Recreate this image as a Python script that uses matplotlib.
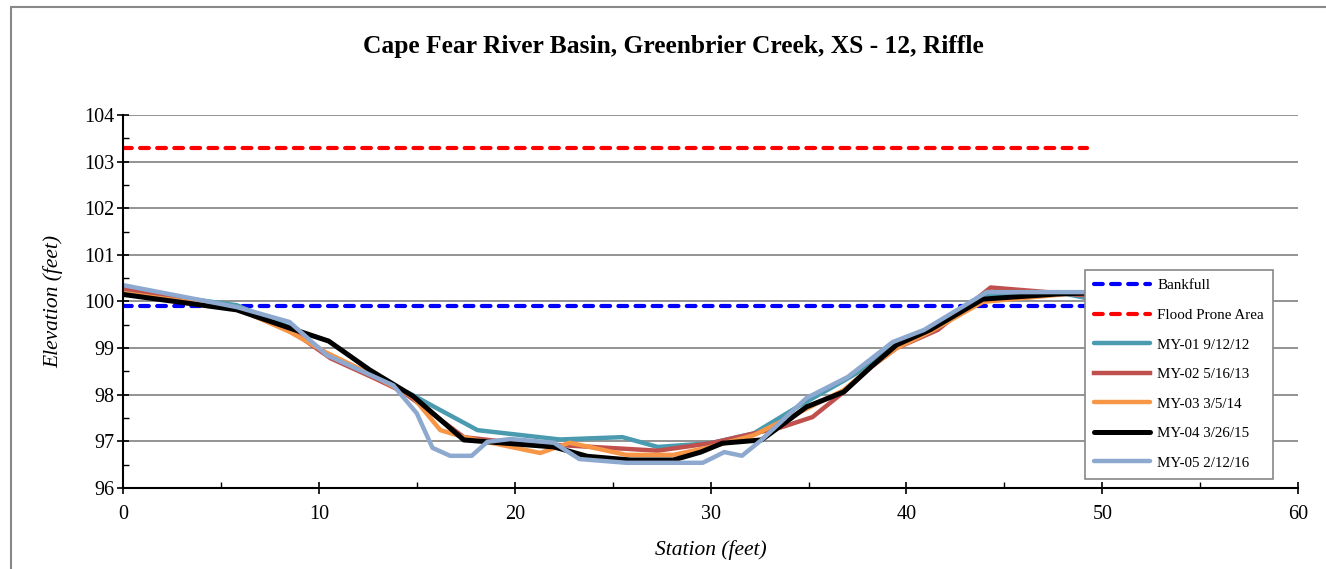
import matplotlib.pyplot as plt
from matplotlib.patches import Rectangle

# Survey data (station, elevation in feet)
bankfull_x = [0, 49.2]
bankfull_y = [99.9, 99.9]
flood_x = [0, 49.2]
flood_y = [103.3, 103.3]

my01_x = [0, 5.8, 8.5, 10.5, 12.6, 14.8, 16.2, 18.1, 22.3, 25.5, 27.3, 30.0, 32.2, 34.6, 36.8, 38.2, 39.5, 41.2, 44.0, 47.7, 49.2]
my01_y = [100.25, 99.92, 99.45, 98.85, 98.45, 97.99, 97.67, 97.24, 97.04, 97.09, 96.88, 96.96, 97.17, 97.78, 98.3, 98.65, 99.1, 99.4, 100.15, 100.2, 100.07]

my02_x = [0, 5.8, 8.5, 10.6, 12.8, 14.3, 17.4, 19.3, 22.3, 27.3, 30.0, 33.6, 35.2, 36.8, 38.2, 39.5, 41.6, 44.3, 49.2]
my02_y = [100.28, 99.85, 99.4, 98.78, 98.36, 98.06, 97.09, 97.0, 96.92, 96.8, 96.96, 97.3, 97.52, 98.06, 98.6, 99.0, 99.39, 100.3, 100.13]

my03_x = [0, 5.8, 8.5, 10.4, 12.6, 14.8, 16.2, 17.4, 21.3, 22.8, 25.7, 28.1, 30.0, 32.2, 34.9, 36.8, 38.2, 39.5, 41.2, 43.9, 49.2]
my03_y = [100.18, 99.85, 99.35, 98.9, 98.45, 97.95, 97.24, 97.09, 96.75, 96.97, 96.71, 96.71, 96.88, 97.13, 97.7, 98.1, 98.6, 99.0, 99.35, 99.99, 100.2]

my04_x = [0, 5.8, 8.5, 10.5, 12.6, 14.8, 17.4, 22.0, 23.7, 25.9, 28.1, 29.5, 30.6, 32.6, 34.9, 36.8, 38.2, 39.5, 41.2, 43.9, 47.7, 49.2]
my04_y = [100.15, 99.82, 99.43, 99.15, 98.53, 97.97, 97.03, 96.88, 96.68, 96.6, 96.6, 96.77, 96.96, 97.03, 97.74, 98.06, 98.6, 99.07, 99.39, 100.05, 100.16, 100.18]

my05_x = [0, 5.8, 8.5, 10.4, 13.8, 15.0, 15.8, 16.7, 17.8, 18.6, 19.8, 22.0, 23.3, 25.7, 29.6, 30.7, 31.6, 32.6, 34.9, 37.0, 39.3, 40.9, 44.1, 49.2]
my05_y = [100.35, 99.88, 99.56, 98.85, 98.2, 97.6, 96.86, 96.69, 96.69, 96.99, 97.05, 96.97, 96.62, 96.54, 96.54, 96.77, 96.69, 97.03, 97.93, 98.38, 99.13, 99.39, 100.2, 100.2]

plt.rcParams['font.family'] = ['Liberation Serif', 'DejaVu Serif']

fig = plt.figure(figsize=(13.26, 5.69), dpi=100)
ax = fig.add_axes([0.0928, 0.1424, 0.8862, 0.6556])

# Frame around the whole chart
fig.patches.append(Rectangle((11 / 1326, -0.1), 1.2, (569 - 7) / 569 + 0.1,
                             transform=fig.transFigure, fill=False,
                             edgecolor='#888888', linewidth=1.5))

dash = (0, (2.1, 2.0))
ax.plot(bankfull_x, bankfull_y, color='#0000FF', linestyle=dash, linewidth=3,
        dash_capstyle='round', label='Bankfull')
ax.plot(flood_x, flood_y, color='#FF0000', linestyle=dash, linewidth=3,
        dash_capstyle='round', label='Flood Prone Area')
ax.plot(my01_x, my01_y, color='#4A9BB0', linewidth=3.2, solid_capstyle='round', label='MY-01 9/12/12')
ax.plot(my02_x, my02_y, color='#C0504D', linewidth=3.2, label='MY-02 5/16/13')
ax.plot(my03_x, my03_y, color='#F79646', linewidth=3.2, solid_capstyle='round', label='MY-03 3/5/14')
ax.plot(my04_x, my04_y, color='#000000', linewidth=3.6, solid_capstyle='round', label='MY-04 3/26/15')
ax.plot(my05_x, my05_y, color='#8EA9CF', linewidth=3.2, solid_capstyle='round', label='MY-05 2/12/16')

ax.set_xlim(0, 60)
ax.set_ylim(96, 104)
ax.set_xticks(range(0, 61, 10))
ax.set_xticks(range(0, 61, 5), minor=True)
ax.set_yticks(range(96, 105, 1))
ax.set_yticks([96 + 0.5 * i for i in range(17)], minor=True)
ax.tick_params(axis='both', which='major', direction='inout', length=8, width=1.2, labelsize=14.5)
ax.tick_params(axis='x', which='major', pad=8)
ax.tick_params(axis='y', which='major', pad=2)
ax.tick_params(axis='both', which='minor', direction='in', length=4, width=1)

ax.grid(axis='y', which='major', color='#808080', linewidth=1.2)
ax.set_axisbelow(True)
for side in ['top', 'right']:
    ax.spines[side].set_visible(False)
for side in ['left', 'bottom']:
    ax.spines[side].set_linewidth(1.5)

ax.set_xlabel('Station (feet)', fontsize=15.5, style='italic', labelpad=12)
ax.set_ylabel('Elevation (feet)', fontsize=15.5, style='italic', labelpad=15)
fig.text(0.508, 0.918, 'Cape Fear River Basin, Greenbrier Creek, XS - 12, Riffle',
         ha='center', va='center', fontsize=18.4, fontweight='bold')

leg = ax.legend(loc='upper left', bbox_to_anchor=(0.8187, 0.5845), fontsize=10.8,
                frameon=True, fancybox=False, edgecolor='#888888', framealpha=1,
                handlelength=3.7, labelspacing=1.07, borderpad=0.6, handletextpad=0.5,
                borderaxespad=0)
leg.get_frame().set_linewidth(1.2)

fig.savefig('out.png', dpi=100)
